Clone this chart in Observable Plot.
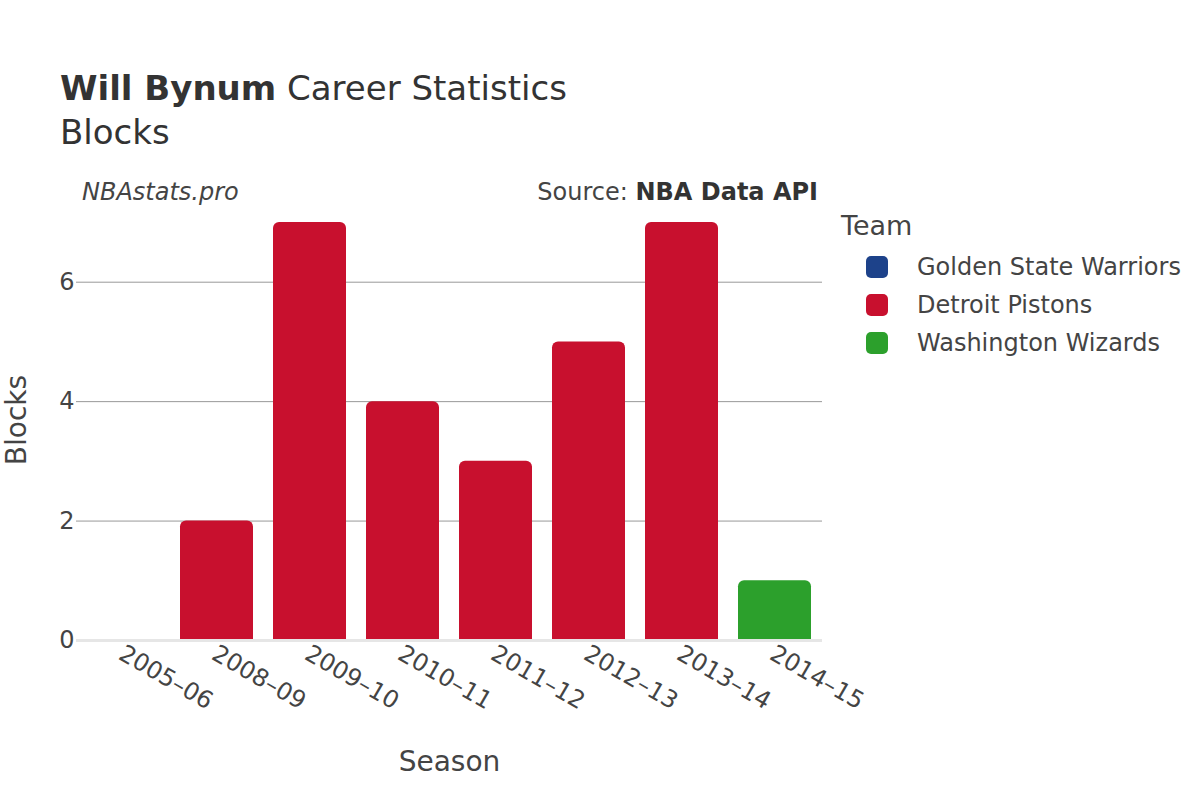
<!DOCTYPE html>
<html>
<head>
<meta charset="utf-8">
<script src="https://cdn.jsdelivr.net/npm/d3@7"></script>
<script src="https://cdn.jsdelivr.net/npm/@observablehq/plot@0.6"></script>
<style>
  html, body { margin: 0; padding: 0; background: #fff; }
  #wrap { position: relative; width: 1200px; height: 800px; font-family: "DejaVu Sans", sans-serif; color: #444; }
  .abs { position: absolute; white-space: nowrap; }
  #chart { position: absolute; left: 0; top: 0; }
</style>
</head>
<body>
<div id="wrap">
  <div id="chart"></div>
  <div class="abs" style="left:60px; top:66px; font-size:34px; line-height:44px; color:#333;"><b>Will Bynum</b> Career Statistics</div>
  <div class="abs" style="left:60px; top:110px; font-size:34px; line-height:44px; color:#333;">Blocks</div>
  <div class="abs" style="left:82px; top:176px; font-size:24px; line-height:32px; font-style:italic; color:#444;">NBAstats.pro</div>
  <div class="abs" style="right:382px; top:176px; font-size:24px; line-height:32px; color:#444;">Source: <b style="color:#333">NBA Data API</b></div>
  <div class="abs" style="left:17px; top:420px; width:0; height:0;">
    <div style="position:absolute; left:0; top:0; transform: translate(-50%, -50%) rotate(-90deg); font-size:28px; line-height:34px; color:#444;">Blocks</div>
  </div>
  <div id="legend" class="abs" style="left:841px; top:208px;"></div>
</div>
<script>
const seasons = ["2005–06", "2008–09", "2009–10", "2010–11", "2011–12", "2012–13", "2013–14", "2014–15"];
const teams = ["Golden State Warriors", "Detroit Pistons", "Detroit Pistons", "Detroit Pistons", "Detroit Pistons", "Detroit Pistons", "Detroit Pistons", "Washington Wizards"];
const blocks = [0, 2, 7, 4, 3, 5, 7, 1];
const teamNames = ["Golden State Warriors", "Detroit Pistons", "Washington Wizards"];
const teamColors = ["#1D428A", "#C8102E", "#2CA02C"];
const yTicks = [0, 2, 4, 6];

const data = seasons.map((s, i) => ({season: s, team: teams[i], blocks: blocks[i]}));

const plot = Plot.plot({
  width: 1200,
  height: 800,
  marginLeft: 76,
  marginRight: 378,
  marginTop: 200,
  marginBottom: 160,
  style: {fontFamily: "DejaVu Sans, sans-serif", fontSize: "24px", color: "#444", background: "transparent"},
  x: {domain: seasons, paddingInner: 0.21, paddingOuter: 0.105, label: null},
  y: {domain: [0, 7.368], label: null},
  color: {domain: teamNames, range: teamColors},
  marks: [
    Plot.gridY(yTicks.filter(d => d > 0), {stroke: "#999", strokeOpacity: 1, strokeWidth: 1}),
    Plot.barY(data, {x: "season", y: "blocks", fill: "team", ry1: 6}),
    Plot.ruleY([0], {stroke: "#e6e6e6", strokeWidth: 3}),
    Plot.axisY({ticks: yTicks, tickSize: 0, tickPadding: 2, tickFormat: d => String(d), fontSize: 24}),
    Plot.axisX({tickSize: 0, tickRotate: 30, tickPadding: 11, dx: -3, fontSize: 24}),
    Plot.text(["Season"], {frameAnchor: "bottom", dy: 130, fontSize: 28, fill: "#444"})
  ]
});
document.getElementById("chart").appendChild(plot);

const legend = document.getElementById("legend");
legend.innerHTML = `<div style="font-size:27px; line-height:36px; color:#444;">Team</div>` +
  teamNames.map((t, i) => `<div style="display:flex; align-items:center; height:38px; font-size:24px; color:#444; ${i === 0 ? "margin-top:4px;" : ""}">
    <span style="display:inline-block; width:22px; height:22px; border-radius:5px; background:${teamColors[i]}; margin-left:25px; margin-right:29px;"></span>${t}</div>`).join("");
</script>
</body>
</html>
